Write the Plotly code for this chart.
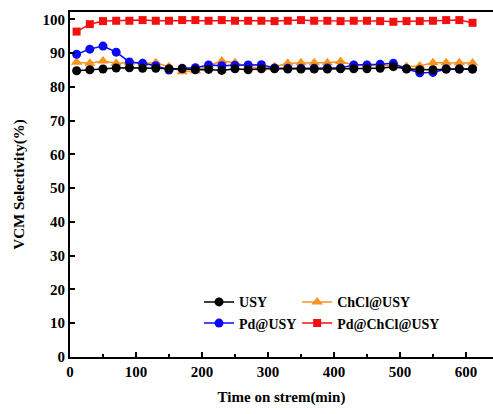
import plotly.graph_objects as go

time_min = [10, 30, 50, 70, 90, 110, 130, 150, 170, 190, 210, 230, 250, 270, 290, 310,
            330, 350, 370, 390, 410, 430, 450, 470, 490, 510, 530, 550, 570, 590, 610]

usy = [84.8, 85.1, 85.3, 85.6, 85.7, 85.5, 85.5, 85.4, 85.4, 85.1, 85.2, 84.9, 85.4, 85.1, 85.4, 85.4,
       85.3, 85.3, 85.3, 85.3, 85.4, 85.4, 85.4, 85.5, 86.0, 85.4, 85.1, 85.1, 85.3, 85.3, 85.3]

chcl_usy = [87.3, 87.0, 87.7, 87.0, 87.2, 87.0, 87.2, 86.0, 84.5, 84.8, 86.3, 87.7, 87.2, 86.0, 85.6, 86.0,
            87.0, 87.2, 87.2, 87.2, 87.5, 86.5, 86.5, 86.5, 86.3, 86.0, 86.2, 87.2, 87.2, 87.2, 87.1]

pd_usy = [89.7, 91.2, 92.1, 90.3, 87.4, 87.0, 86.3, 85.0, 85.5, 85.7, 86.5, 86.3, 86.4, 86.5, 86.6, 85.6,
          85.5, 85.5, 85.5, 85.6, 85.6, 86.5, 86.5, 86.7, 87.0, 85.3, 84.2, 84.3, 85.3, 85.3, 85.3]

pd_chcl_usy = [96.4, 98.6, 99.5, 99.6, 99.6, 99.8, 99.6, 99.6, 99.8, 99.8, 99.6, 99.8, 99.6, 99.6, 99.6, 99.5,
               99.6, 99.8, 99.6, 99.6, 99.5, 99.6, 99.6, 99.5, 99.3, 99.5, 99.5, 99.6, 99.8, 99.8, 99.0]

FONT = "Times New Roman, Liberation Serif, serif"

fig = go.Figure()

fig.add_trace(go.Scatter(x=time_min, y=chcl_usy, name="ChCl@USY", mode="lines+markers",
                         line=dict(color="#f7931e", width=1.5),
                         marker=dict(symbol="triangle-up", size=10, color="#f7931e"),
                         legend="legend2", legendrank=1))
fig.add_trace(go.Scatter(x=time_min, y=pd_usy, name="Pd@USY", mode="lines+markers",
                         line=dict(color="#0a0af5", width=1.5),
                         marker=dict(symbol="circle", size=9, color="#0a0af5"),
                         legend="legend", legendrank=2))
fig.add_trace(go.Scatter(x=time_min, y=pd_chcl_usy, name="Pd@ChCl@USY", mode="lines+markers",
                         line=dict(color="#f51010", width=1.5),
                         marker=dict(symbol="square", size=8, color="#f51010"),
                         legend="legend2", legendrank=2))
fig.add_trace(go.Scatter(x=time_min, y=usy, name="USY", mode="lines+markers",
                         line=dict(color="black", width=1.5),
                         marker=dict(symbol="circle", size=9, color="black"),
                         legend="legend", legendrank=1))

legend_font = dict(family=FONT, size=14, color="black", weight="bold")
tick_font = dict(family=FONT, size=15, color="black", weight="bold")

fig.update_layout(
    width=493, height=414,
    margin=dict(l=70, r=0, t=12, b=57),
    paper_bgcolor="white", plot_bgcolor="white",
    font=dict(family=FONT, size=15, color="black", weight="bold"),
    showlegend=True,
    legend=dict(x=0.305, y=0.205, xanchor="left", yanchor="top", orientation="v",
                bgcolor="rgba(0,0,0,0)", font=legend_font, itemwidth=30,
                tracegroupgap=0),
    legend2=dict(x=0.537, y=0.205, xanchor="left", yanchor="top", orientation="v",
                 bgcolor="rgba(0,0,0,0)", font=legend_font, itemwidth=30,
                 tracegroupgap=0),
    xaxis=dict(range=[0, 641], tickvals=[0, 100, 200, 300, 400, 500, 600],
               ticks="inside", ticklen=5, tickwidth=1.5, tickcolor="black",
               minor=dict(dtick=50, tick0=0, ticks="inside", ticklen=3, tickwidth=1.5, tickcolor="black"),
               showline=True, linewidth=2, linecolor="black", mirror=True,
               showgrid=False, zeroline=False, automargin=False,
               tickfont=tick_font,
               title=dict(text="Time on strem(min)", standoff=12,
                          font=dict(family=FONT, size=15, color="black", weight="bold"))),
    yaxis=dict(range=[0, 102.2], tickvals=[0, 10, 20, 30, 40, 50, 60, 70, 80, 90, 100],
               ticks="inside", ticklen=5, tickwidth=1.5, tickcolor="black",
               showline=True, linewidth=2, linecolor="black", mirror=False,
               showgrid=False, zeroline=False, automargin=False,
               tickfont=tick_font,
               title=dict(text="VCM Selectivity(%)", standoff=14,
                          font=dict(family=FONT, size=15, color="black", weight="bold"))),
)

fig.write_html("out.html", config={"displayModeBar": False},
               post_script="document.body.style.margin='0';document.body.style.overflow='hidden';")
